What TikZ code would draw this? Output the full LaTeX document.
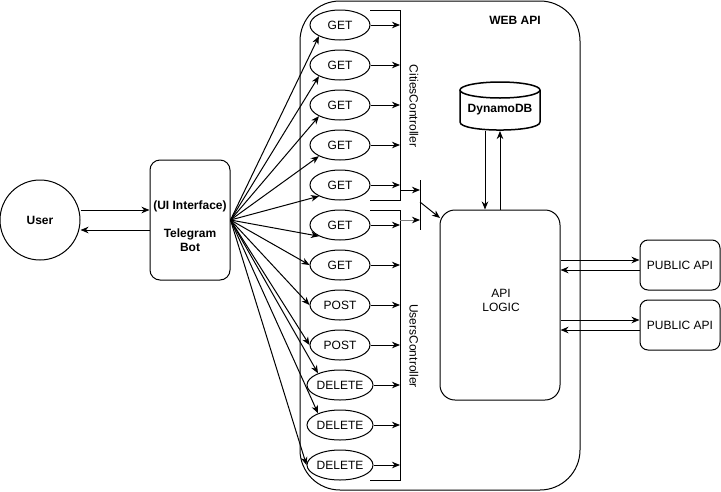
\documentclass[tikz,border=0pt]{standalone}
\usepackage{fontspec}
\setmainfont{Liberation Sans}
\usetikzlibrary{arrows.meta,shapes.geometric}
\begin{document}
\begin{tikzpicture}[x=1pt,y=-1pt, line width=1pt,
  txt/.style={font=\fontsize{12pt}{14pt}\selectfont},
  btxt/.style={font=\fontsize{12pt}{14pt}\selectfont\bfseries},
  arr/.style={-{Stealth[length=8pt,width=6.5pt,inset=2.5pt,color=black]}},
  op/.style={draw, ellipse, minimum width=60pt, minimum height=30pt, inner sep=0pt, txt},
  rbox/.style={draw, rounded corners=#1, inner sep=0pt},
]
\useasboundingbox (0,0) rectangle (721,491);

% WEB API container
\node[rbox=40pt, minimum width=280pt, minimum height=489pt] (web) at (440,245.5) {};
\node[btxt] (weblbl) at (515,20) {WEB API};

% user and bot
\node[draw, circle, minimum size=80pt, inner sep=0pt, btxt] (user) at (40,220) {User};
\node[rbox=10pt, minimum width=80pt, minimum height=120pt] (bot) at (190,220) {};
\node[btxt, align=center] (bottxt) at (190,226) {(UI Interface)\\[14pt]Telegram\\Bot};
\draw[arr] ([yshift=10pt]user.east) -- ([yshift=10pt]bot.west);
\draw[arr] ([yshift=-10pt]bot.west) -- ([yshift=-10pt]user.east);

% endpoints
\foreach \i/\t in {1/GET,2/GET,3/GET,4/GET,5/GET,6/GET,7/GET,8/POST,9/POST,10/DELETE,11/DELETE,12/DELETE}{
  \node[op] (e\i) at (340,{25+40*(\i-1)}) {\t};
}
\coordinate (cbx) at (400,0);
\foreach \i in {1,...,12}{
  \draw[arr] (e\i.east) -- (e\i.east -| cbx);
}
\foreach \i in {1,...,6}{
  \draw[arr] (bot.east) -- (e\i.208);
}
\foreach \i in {7,8,9,12}{
  \draw[arr] (bot.east) -- (e\i.west);
}
\foreach \i in {10,11}{
  \draw[arr] (bot.east) -- (e\i.152);
}

% controller brackets
\coordinate (ct1) at (370,10); \coordinate (ct2) at (400,10);
\coordinate (cb2) at (400,200); \coordinate (cb1) at (370,200);
\draw (ct1) -- (ct2) -- (cb2) -- (cb1);
\coordinate (ut1) at (370,210); \coordinate (ut2) at (400,210);
\coordinate (ub2) at (400,480); \coordinate (ub1) at (370,480);
\draw (ut1) -- (ut2) -- (ub2) -- (ub1);
\node[txt, rotate=-90] (cc) at (414,106) {CitiesController};
\node[txt, rotate=-90] (uc) at (414,346) {UsersController};

% merge bar
\coordinate (bart) at (420,180); \coordinate (barb) at (420,230);
\draw (bart) -- (barb);
\coordinate (cout) at (400,190); \coordinate (cin) at (420,190);
\coordinate (uout) at (400,220); \coordinate (uin) at (420,220);
\draw[arr] (cout) -- (cin);
\draw[arr, draw=gray] (uout) -- (uin);

% API logic
\node[rbox=15pt, minimum width=120pt, minimum height=190pt] (logic) at (500,305) {};
\node[txt, align=center] (logictxt) at (501,300) {API\\LOGIC};
\coordinate (bout) at (420,202); \coordinate (lin) at (440,218);
\draw[arr] (bout) -- (lin);

% DynamoDB cylinder
\coordinate (dbl1) at (460,90); \coordinate (dbl2) at (460,122);
\coordinate (dbr1) at (540,90); \coordinate (dbr2) at (540,122);
\draw[line width=1.5pt] (dbl1) -- (dbl2) .. controls (460,132.7) and (540,132.7) .. (dbr2) -- (dbr1);
\draw[line width=1.5pt] (500,90) ellipse [x radius=40, y radius=8];
\node[btxt] (db) at (500,110) {DynamoDB};
\coordinate (dbd) at (485,131); \coordinate (dbu) at (500,131);
\draw[arr] (dbd) -- (dbd |- logic.north);
\draw[arr] (dbu |- logic.north) -- (dbu);

% public APIs
\node[rbox=8pt, minimum width=80pt, minimum height=50pt, txt] (pa1) at (680,265) {PUBLIC API};
\node[rbox=8pt, minimum width=80pt, minimum height=50pt, txt] (pa2) at (680,325) {PUBLIC API};
\draw[arr] ([yshift=5pt]pa1.west -| logic.east) -- ([yshift=5pt]pa1.west);
\draw[arr] ([yshift=-5pt]pa1.west) -- ([yshift=-5pt]pa1.west -| logic.east);
\draw[arr] ([yshift=5pt]pa2.west -| logic.east) -- ([yshift=5pt]pa2.west);
\draw[arr] ([yshift=-5pt]pa2.west) -- ([yshift=-5pt]pa2.west -| logic.east);
\end{tikzpicture}
\end{document}
